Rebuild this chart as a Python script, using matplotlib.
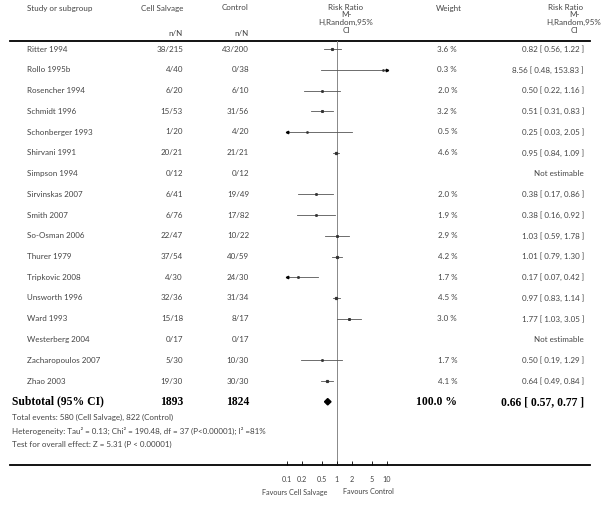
import matplotlib
matplotlib.use("Agg")
import matplotlib.pyplot as plt
import numpy as np
from matplotlib.patches import Polygon

studies = ["Ritter 1994", "Rollo 1995b", "Rosencher 1994", "Schmidt 1996", "Schonberger 1993",
           "Shirvani 1991", "Simpson 1994", "Sirvinskas 2007", "Smith 2007", "So-Osman 2006",
           "Thurer 1979", "Tripkovic 2008", "Unsworth 1996", "Ward 1993", "Westerberg 2004",
           "Zacharopoulos 2007", "Zhao 2003"]
cell_salvage = ["38/215", "4/40", "6/20", "15/53", "1/20", "20/21", "0/12", "6/41", "6/76", "22/47",
                "37/54", "4/30", "32/36", "15/18", "0/17", "5/30", "19/30"]
control = ["43/200", "0/38", "6/10", "31/56", "4/20", "21/21", "0/12", "19/49", "17/82", "10/22",
           "40/59", "24/30", "31/34", "8/17", "0/17", "10/30", "30/30"]
weights = [3.6, 0.3, 2.0, 3.2, 0.5, 4.6, None, 2.0, 1.9, 2.9, 4.2, 1.7, 4.5, 3.0, None, 1.7, 4.1]
rr = [0.82, 8.56, 0.50, 0.51, 0.25, 0.95, None, 0.38, 0.38, 1.03, 1.01, 0.17, 0.97, 1.77, None, 0.50, 0.64]
lo = [0.56, 0.48, 0.22, 0.31, 0.03, 0.84, None, 0.17, 0.16, 0.59, 0.79, 0.07, 0.83, 1.03, None, 0.19, 0.49]
hi = [1.22, 153.83, 1.16, 0.83, 2.05, 1.09, None, 0.86, 0.92, 1.78, 1.30, 0.42, 1.14, 3.05, None, 1.29, 0.84]

total_cs = "1893"
total_ctrl = "1824"
total_weight = "100.0 %"
total_rr, total_lo, total_hi = 0.66, 0.57, 0.77
ticks = [0.1, 0.2, 0.5, 1, 2, 5, 10]
tick_labels = ["0.1", "0.2", "0.5", "1", "2", "5", "10"]

W, H = 601, 508
fig = plt.figure(figsize=(W / 100, H / 100), dpi=100)
bg = fig.add_axes([0, 0, 1, 1])
bg.set_xlim(0, W)
bg.set_ylim(H, 0)
bg.axis("off")

FONT = "Lato"
TC = "#444444"
fs = 5.8

def t(x, y, s, ha="left", **kw):
    kw.setdefault("fontsize", fs)
    kw.setdefault("family", FONT)
    kw.setdefault("color", TC)
    bg.text(x, y, s, ha=ha, va="center", **kw)

# headers
t(27, 8, "Study or subgroup")
t(183, 8, "Cell Salvage", ha="right")
t(249, 8, "Control", ha="right")
t(183, 33, "n/N", ha="right")
t(249, 33, "n/N", ha="right")
for i, s in enumerate(["Risk Ratio", "M-", "H,Random,95%", "CI"]):
    t(346, 7 + i * 7.8, s, ha="center")
t(449, 8, "Weight", ha="center")
t(566, 7, "Risk Ratio", ha="center")
for i, s in enumerate(["M-", "H,Random,95%", "CI"]):
    t(574, 7 + (i + 1) * 7.8, s, ha="center")

# header and bottom rules
bg.plot([10, 590], [41, 41], color="black", lw=1.3)
bg.plot([10, 590], [465, 465], color="black", lw=1.3)

row_y = [49 + 20.75 * i for i in range(len(studies))]
sub_y = 49 + 20.75 * len(studies)

for i, name in enumerate(studies):
    y = row_y[i]
    t(27, y, name)
    t(183, y, cell_salvage[i], ha="right")
    t(249, y, control[i], ha="right")
    if rr[i] is None:
        t(584, y, "Not estimable", ha="right")
    else:
        t(457, y, f"{weights[i]:.1f} %", ha="right")
        t(584, y, f"{rr[i]:.2f} [ {lo[i]:.2f}, {hi[i]:.2f} ]", ha="right")

sfont = dict(family="Liberation Serif", fontsize=8.4, fontweight="bold", color="black")
t(12, sub_y, "Subtotal (95% CI)", **sfont)
t(183, sub_y, total_cs, ha="right", **sfont)
t(249, sub_y, total_ctrl, ha="right", **sfont)
t(457, sub_y, total_weight, ha="right", **sfont)
t(584, sub_y, f"{total_rr:.2f} [ {total_lo:.2f}, {total_hi:.2f} ]", ha="right", **sfont)

t(12, 417, "Total events: 580 (Cell Salvage), 822 (Control)")
t(12, 431, "Heterogeneity: Tau² = 0.13; Chi² = 190.48, df = 37 (P<0.00001); I² =81%")
t(12, 444, "Test for overall effect: Z = 5.31 (P < 0.00001)")

# forest axes
x1 = 336.7
dec = 50.0
left = x1 - dec
fax = fig.add_axes([left / W, (H - 465) / H, 2 * dec / W, (465 - 41) / H])
fax.set_xscale("log")
fax.set_xlim(0.1, 10)
fax.set_ylim(465, 41)
fax.patch.set_alpha(0)
for sp in fax.spines.values():
    sp.set_visible(False)
fax.set_yticks([])
fax.set_xticks(ticks)
fax.set_xticklabels(tick_labels)
fax.minorticks_off()
fax.tick_params(axis="x", direction="in", length=3, width=0.6, pad=8,
                labelsize=5.2, labelcolor=TC, color="black")
for lab in fax.get_xticklabels():
    lab.set_family(FONT)
fax.axvline(1, color="#888888", lw=0.7, zorder=1)

xmin, xmax = 0.1, 10
for i in range(len(studies)):
    if rr[i] is None:
        continue
    y = row_y[i]
    a, b = max(lo[i], xmin), min(hi[i], xmax)
    fax.plot([a, b], [y, y], color="#555555", lw=0.6, zorder=2, clip_on=False)
    if lo[i] < xmin:
        fax.plot(a, y, marker="<", ms=1.8, color="black", clip_on=False, zorder=3)
    if hi[i] > xmax:
        fax.plot(b, y, marker=">", ms=1.8, color="black", clip_on=False, zorder=3)
    fax.plot(rr[i], y, marker="s", ms=0.8 + 0.12 * weights[i], color="#333333", zorder=3, clip_on=False)

dh = 3.2
diamond = Polygon([(total_lo, sub_y), (total_rr, sub_y - dh), (total_hi, sub_y), (total_rr, sub_y + dh)],
                  closed=True, color="black", zorder=3)
fax.add_patch(diamond)

t(327, 492, "Favours Cell Salvage", ha="right", fontsize=5.2)
t(343, 492, "Favours Control", ha="left", fontsize=5.2)

fig.savefig("out.png", dpi=100)
